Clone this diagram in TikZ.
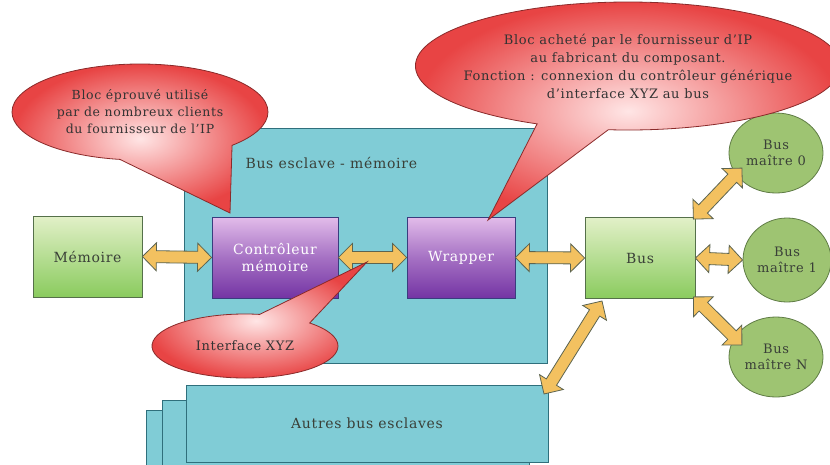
\documentclass[tikz,border=0pt]{standalone}
\usepackage{fontspec}
\setmainfont{DejaVu Serif}[LetterSpace=5]
\usetikzlibrary{shapes.geometric,shapes.callouts,calc}
\definecolor{cyanbg}{HTML}{80CCD6}
\definecolor{cyanedge}{HTML}{2F6F7C}
\definecolor{greenlt}{HTML}{E2F0C8}
\definecolor{greendk}{HTML}{8ACB5E}
\definecolor{greenedge}{HTML}{55704A}
\definecolor{purplt}{HTML}{E2BCEA}
\definecolor{purdk}{HTML}{7434A4}
\definecolor{puredge}{HTML}{3A3C7E}
\definecolor{olive}{HTML}{9EC472}
\definecolor{oliveedge}{HTML}{5F7C45}
\definecolor{redc}{HTML}{E84444}
\definecolor{rededge}{HTML}{8A2A2A}
\definecolor{arrowfill}{HTML}{F3C160}
\definecolor{arrowedge}{HTML}{5C6450}
\definecolor{txt}{HTML}{3A4038}
\newcommand\fatarrow[2]{%
  \path[fatarrowstyle] let \p1=(#1), \p2=(#2),
    \n1={atan2(\y2-\y1,\x2-\x1)}, \n2={veclen(\x2-\x1,\y2-\y1)} in
    [shift={(\p1)}, rotate=\n1]
    (0pt,0pt) -- (14pt,14pt) -- (14pt,6pt) -- (\n2-14pt,6pt) -- (\n2-14pt,14pt)
    -- (\n2,0pt) -- (\n2-14pt,-14pt) -- (\n2-14pt,-6pt) -- (14pt,-6pt)
    -- (14pt,-14pt) -- cycle;}
\begin{document}
\begin{tikzpicture}[x=1pt,y=-1pt,
  every node/.style={font=\fontsize{14}{17}\selectfont, text=txt},
  fatarrowstyle/.style={fill=arrowfill, draw=arrowedge, line width=0.8pt, line join=miter},
  greenbox/.style={rectangle, draw=greenedge, line width=0.8pt, top color=greenlt, bottom color=greendk, inner sep=0pt},
  purbox/.style={rectangle, draw=puredge, line width=0.8pt, top color=purplt, bottom color=purdk, middle color=purdk!55!purplt, inner sep=0pt, text=white, align=center},
  cyanbox/.style={rectangle, draw=cyanedge, line width=0.8pt, fill=cyanbg, inner sep=0pt},
  master/.style={ellipse, draw=oliveedge, line width=0.8pt, fill=olive, inner sep=0pt, align=center, font=\fontsize{13}{16}\selectfont},
  bubble/.style={ellipse callout, draw=rededge, line width=0.8pt, inner color=red!10, outer color=redc, align=center, inner sep=0pt, text=black!80, font=\fontsize{12.5}{17}\selectfont}]
\useasboundingbox (0,0) rectangle (830,464);
\fill[white] (0,0) rectangle (830,464);
% slave bus memory region
\node[cyanbox, minimum width=363pt, minimum height=235pt] (esclave) at (365.5,245.5) {};
\node[anchor=west] (esclavelbl) at (242,163) {Bus esclave - mémoire};
% other slave buses (stack)
\node[cyanbox, minimum width=361pt, minimum height=62pt] (autres3) at (326.5,441) {};
\node[cyanbox, minimum width=367pt, minimum height=66pt] (autres2) at (345.5,433) {};
\node[cyanbox, minimum width=362pt, minimum height=77pt] (autres) at (367,423.5) {Autres bus esclaves};
% blocks
\node[greenbox, minimum width=109pt, minimum height=81pt] (mem) at (87.5,256.5) {Mémoire};
\node[purbox, minimum width=126pt, minimum height=81pt] (ctrl) at (275,257.5) {Contrôleur\\mémoire};
\node[purbox, minimum width=108pt, minimum height=81pt] (wrap) at (461,257.5) {Wrapper};
\node[greenbox, minimum width=110pt, minimum height=81pt] (bus) at (640,258) {Bus};
\node[master, minimum width=94pt, minimum height=80pt] (m0) at (776,153) {Bus\\maître 0};
\node[master, minimum width=88pt, minimum height=84pt] (m1) at (787,260) {Bus\\maître 1};
\node[master, minimum width=94pt, minimum height=80pt] (mN) at (776,357) {Bus\\maître N};
% arrows
\fatarrow{mem.east}{ctrl.west}
\fatarrow{ctrl.east}{wrap.west}
\fatarrow{wrap.east}{bus.west}
\fatarrow{bus.east}{m1.west}
\coordinate (b0) at ($(bus.north east)+(-2,2)$);
\coordinate (e0) at (742,168);
\fatarrow{b0}{e0}
\coordinate (bN) at ($(bus.south east)+(-2,-2)$);
\coordinate (eN) at (742,345);
\fatarrow{bN}{eN}
\coordinate (bA) at (602,301);
\coordinate (eA) at (544,394);
\fatarrow{bA}{eA}
% callouts
\coordinate (tip1) at (230,213);
\coordinate (tip2) at (488,220);
\coordinate (tip3) at (367,262);
\node[bubble, minimum width=256pt, minimum height=96pt, callout absolute pointer={(tip1)}, callout pointer arc=55] (cl1) at (140,112)
  {Bloc éprouvé utilisé\\par de nombreux clients\\du fournisseur de l'IP};
\node[bubble, minimum width=400pt, minimum height=128pt, inner xsep=-14pt, inner ysep=-4pt, callout absolute pointer={(tip2)}, callout pointer arc=20, font=\fontsize{13}{18}\selectfont] (cl2) at (628,66)
  {Bloc acheté par le fournisseur d'IP\\au fabricant du composant.\\Fonction : connexion du contrôleur générique\\d'interface XYZ au bus};
\node[bubble, minimum width=186pt, minimum height=64pt, callout absolute pointer={(tip3)}, callout pointer arc=35, font=\fontsize{13}{16}\selectfont] (cl3) at (245,346)
  {Interface XYZ};
\end{tikzpicture}
\end{document}
